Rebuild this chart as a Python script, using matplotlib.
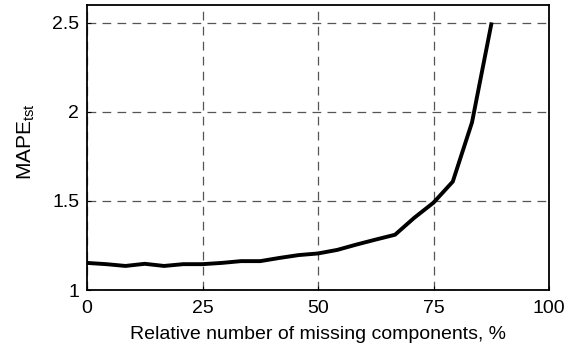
import matplotlib
matplotlib.use("Agg")
import matplotlib.pyplot as plt

# share of missing components, % and test-set MAPE
missing_pct = [0, 4.17, 8.33, 12.5, 16.67, 20.83, 25, 29.17, 33.33, 37.5, 41.67,
               45.83, 50, 54.17, 58.33, 62.5, 66.67, 70.83, 75, 79.17, 83.33, 87.5]
mape_tst = [1.152, 1.145, 1.135, 1.147, 1.135, 1.145, 1.145, 1.152, 1.162, 1.162, 1.18,
            1.196, 1.205, 1.225, 1.255, 1.283, 1.31, 1.405, 1.49, 1.608, 1.94, 2.49]

x_ticks = [0, 25, 50, 75, 100]
y_ticks = [1, 1.5, 2, 2.5]
y_tick_labels = ["1", "1.5", "2", "2.5"]

plt.rcParams["font.family"] = ["Liberation Sans", "DejaVu Sans"]
plt.rcParams["mathtext.default"] = "regular"
plt.rcParams["font.size"] = 14


def main() -> None:
    fig = plt.figure(figsize=(5.66, 3.49), dpi=100)
    ax = fig.add_axes([0.1537, 0.169, 0.8163, 0.8175])

    ax.plot(missing_pct, mape_tst, color="black", linewidth=2.8, zorder=3)

    ax.set_xlim(0, 100)
    ax.set_ylim(1, 2.6)
    ax.set_xticks(x_ticks)
    ax.set_yticks(y_ticks)
    ax.set_yticklabels(y_tick_labels)
    ax.tick_params(direction="in", length=3, width=0.8, labelsize=14)
    ax.tick_params(axis="x", pad=7.5)
    ax.tick_params(axis="y", pad=5.5)
    ax.grid(True, color="#555555", linestyle=(0, (7, 5)), linewidth=0.9)

    for s in ax.spines.values():
        s.set_linewidth(1.3)

    ax.set_xlabel("Relative number of missing components, %", fontsize=14)
    ax.set_ylabel("MAPE$_{tst}$", fontsize=15)
    ax.xaxis.set_label_coords(0.5, -0.125)
    ax.yaxis.set_label_coords(-0.108, 0.52)

    fig.savefig("out.png", dpi=100)
    plt.close(fig)


if __name__ == "__main__":
    main()
